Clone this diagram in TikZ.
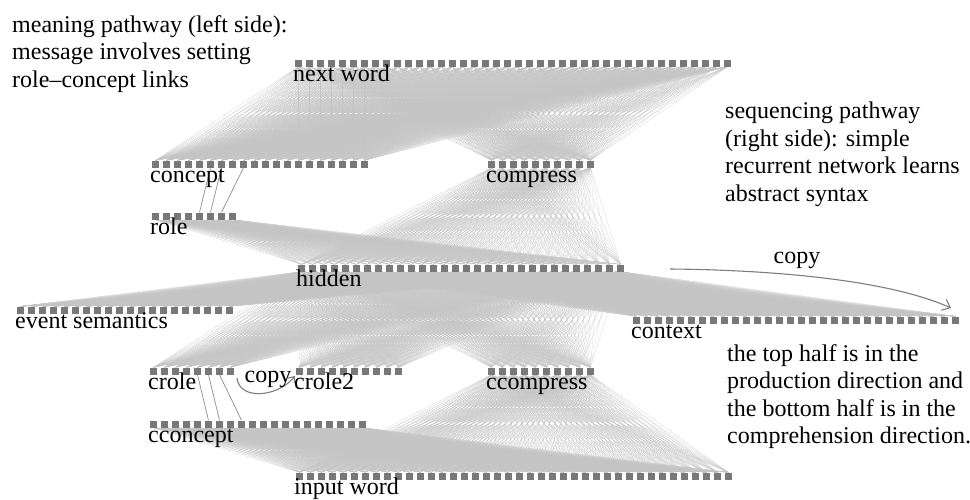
\documentclass[tikz,border=0pt]{standalone}
\usepackage{fontspec}
\setmainfont{Liberation Serif}
\usetikzlibrary{arrows.meta}
\usetikzlibrary{backgrounds}

\definecolor{unitgray}{RGB}{120,120,120}
\definecolor{linkgray}{RGB}{196,196,196}
\definecolor{arrowgray}{RGB}{125,125,125}

\newcommand{\unitrow}[5]{%
  \foreach \i in {1,...,#4}
    \node[unitStyle] (#1-\i) at ({#2+3.5+11*(\i-1)},#3) {};
  \node[labelStyle] (#1-label) at (#2-2,#3+3) {#5};
}
\newcommand{\allto}[4]{%
  \foreach \i in {1,...,#2}
    \foreach \j in {1,...,#4}
      \draw[linkStyle] (#1-\i.north) -- (#3-\j.south);
}

\begin{document}
\begin{tikzpicture}[x = 1pt, y = -1pt]
\tikzstyle{unitStyle} = [rectangle, fill = unitgray, minimum size = 7pt, inner sep = 0pt]
\tikzstyle{labelStyle} = [anchor = north west, inner sep = 0pt, text height = 15.5pt, text depth = 5pt]
\tikzstyle{linkStyle} = [draw = linkgray, line width = 0.15pt]
\tikzstyle{pairStyle} = [draw = unitgray!85, line width = 0.7pt]
\tikzstyle{noteStyle} = [anchor = north west, align = left, inner sep = 0pt]
\tikzstyle{copyStyle} = [draw = arrowgray, line width = 1.1pt]
\fontsize{24}{27.5}\selectfont
\useasboundingbox (0,0) rectangle (970,499);

\unitrow{nw}{295}{63}{40}{next word}
\unitrow{con}{152}{164}{20}{concept}
\unitrow{cmp}{488}{164}{10}{compress}
\unitrow{role}{152}{216}{8}{role}
\unitrow{hid}{298}{268}{30}{hidden}
\unitrow{ev}{17}{310}{20}{event semantics}
\unitrow{ctx}{633}{320}{30}{context}
\unitrow{crl}{150}{371}{8}{crole}
\unitrow{crltwo}{296}{371}{10}{crole2}
\unitrow{ccmp}{488}{371}{10}{ccompress}
\unitrow{ccon}{150}{424}{20}{cconcept}
\unitrow{in}{296}{476}{40}{input word}

\begin{scope}[on background layer]
\allto{con}{20}{nw}{40}
\allto{cmp}{10}{nw}{40}
\allto{hid}{30}{cmp}{10}
\allto{hid}{30}{role}{8}
\allto{ev}{20}{hid}{30}
\allto{ctx}{30}{hid}{30}
\allto{crl}{8}{hid}{30}
\allto{crltwo}{10}{hid}{30}
\allto{ccmp}{10}{hid}{30}
\allto{in}{40}{ccmp}{10}
\allto{in}{40}{ccon}{20}
\draw[pairStyle] (role-5.north) -- (con-6.south);
\draw[pairStyle] (role-6.north) -- (con-7.south);
\draw[pairStyle] (role-7.north) -- (con-9.south);
\draw[pairStyle] (ccon-6.north) -- (crl-5.south);
\draw[pairStyle] (ccon-7.north) -- (crl-6.south);
\draw[pairStyle] (ccon-9.north) -- (crl-7.south);
\end{scope}

\coordinate (copyfrom) at (670,269);
\coordinate (copyto) at (951,308);
\draw[copyStyle, -{Straight Barb[length = 7pt, width = 12pt]}] (copyfrom) .. controls +(110,1) and +(-60,-27) .. (copyto);
\node[anchor = base, inner sep = 0pt] (copytext) at (797,263) {copy};

\coordinate (ccopyfrom) at (237,378);
\coordinate (ccopyto) at (295,376);
\draw[copyStyle, -{Straight Barb[length = 5pt, width = 8pt]}] (ccopyfrom) .. controls +(2,22) and +(-18,22) .. (ccopyto);
\node[anchor = base, inner sep = 0pt] (ccopytext) at (268,382) {copy};

\node[noteStyle] (meaning) at (12,15) {meaning pathway (left side):\\message involves setting\\role--concept links};
\node[noteStyle] (sequencing) at (725,102) {sequencing pathway\\(right side): simple\\recurrent network learns\\abstract syntax};
\node[noteStyle] (direction) at (727,344) {the top half is in the\\production direction and\\the bottom half is in the\\comprehension direction.};
\end{tikzpicture}
\end{document}
